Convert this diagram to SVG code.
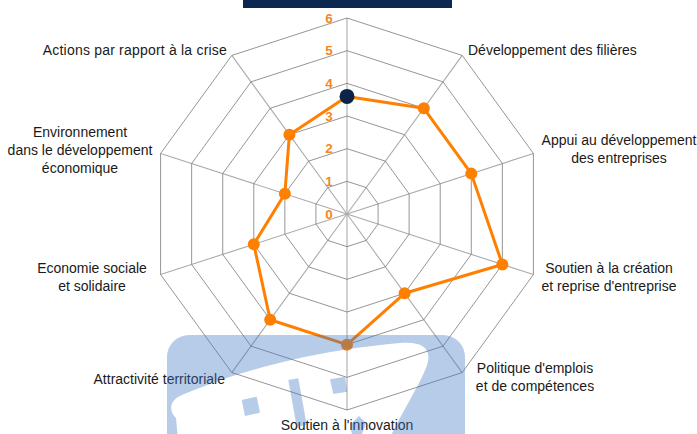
<svg xmlns="http://www.w3.org/2000/svg" width="697" height="434" viewBox="0 0 697 434">
<style>
.ring{fill:none;stroke:#7a7a7a;stroke-width:0.8}
.spoke{stroke:#ababab;stroke-width:1.1}
.lbl{font-family:"Liberation Sans",Arial,sans-serif;font-size:14px;fill:#1a1a1a}
.scale{font-family:"Liberation Sans",Arial,sans-serif;font-size:13.5px;font-weight:bold;fill:#F5871F;text-anchor:middle}
.dot{fill:#FF7F00}
.wm{fill:#3A75C4}
</style>
<defs>
<mask id="wmask">
<rect x="0" y="0" width="697" height="434" fill="#fff"/>
<path d="M176 418 C168 410 170 400 182 395 C230 375 300 352 400 343 C425 341 433 350 426 368 C416 392 400 415 389 440 L178 440 Z" fill="#000"/>
</mask>
</defs>
<rect x="243" y="0" width="209" height="8" fill="#0B2850"/>
<g id="grid">
<g class="spokes">
<line class="spoke" x1="347" y1="214" x2="347" y2="18"/>
<line class="spoke" x1="347" y1="214" x2="462.21" y2="55.44"/>
<line class="spoke" x1="347" y1="214" x2="533.42" y2="153.44"/>
<line class="spoke" x1="347" y1="214" x2="533.42" y2="274.56"/>
<line class="spoke" x1="347" y1="214" x2="462.21" y2="372.56"/>
<line class="spoke" x1="347" y1="214" x2="347" y2="410"/>
<line class="spoke" x1="347" y1="214" x2="231.79" y2="372.56"/>
<line class="spoke" x1="347" y1="214" x2="160.58" y2="274.56"/>
<line class="spoke" x1="347" y1="214" x2="160.58" y2="153.44"/>
<line class="spoke" x1="347" y1="214" x2="231.79" y2="55.44"/>
</g>
<polygon class="ring" points="347,181.33 366.2,187.57 378.07,203.91 378.07,224.09 366.2,240.43 347,246.67 327.8,240.43 315.93,224.09 315.93,203.91 327.8,187.57"/>
<polygon class="ring" points="347,148.67 385.4,161.15 409.14,193.81 409.14,234.19 385.4,266.85 347,279.33 308.6,266.85 284.86,234.19 284.86,193.81 308.6,161.15"/>
<polygon class="ring" points="347,116 404.6,134.72 440.21,183.72 440.21,244.28 404.6,293.28 347,312 289.4,293.28 253.79,244.28 253.79,183.72 289.4,134.72"/>
<polygon class="ring" points="347,83.33 423.81,108.29 471.28,173.62 471.28,254.38 423.81,319.71 347,344.67 270.19,319.71 222.72,254.38 222.72,173.62 270.19,108.29"/>
<polygon class="ring" points="347,50.67 443.01,81.86 502.35,163.53 502.35,264.47 443.01,346.14 347,377.33 250.99,346.14 191.65,264.47 191.65,163.53 250.99,81.86"/>
<polygon class="ring" points="347,18 462.21,55.44 533.42,153.44 533.42,274.56 462.21,372.56 347,410 231.79,372.56 160.58,274.56 160.58,153.44 231.79,55.44"/>
</g>
<g id="scale">
<text class="scale" x="329" y="22.5">6</text>
<text class="scale" x="329" y="55.2">5</text>
<text class="scale" x="329" y="87.8">4</text>
<text class="scale" x="329" y="120.5">3</text>
<text class="scale" x="329" y="153.2">2</text>
<text class="scale" x="329" y="185.8">1</text>
<text class="scale" x="329" y="219">0</text>
</g>
<g id="connectors">
<polygon points="347,96.4 423.81,108.29 471.28,173.62 502.35,264.47 404.6,293.28 347,344.67 270.19,319.71 253.79,244.28 284.86,193.81 289.4,134.72" fill="none" stroke="#FF7F00" stroke-width="3" stroke-linejoin="round"/>
</g>
<g id="points">
<circle class="dot" cx="423.81" cy="108.29" r="6"/>
<circle class="dot" cx="471.28" cy="173.62" r="6"/>
<circle class="dot" cx="502.35" cy="264.47" r="6"/>
<circle class="dot" cx="404.6" cy="293.28" r="6"/>
<circle class="dot" cx="347" cy="344.67" r="6"/>
<circle class="dot" cx="270.19" cy="319.71" r="6"/>
<circle class="dot" cx="253.79" cy="244.28" r="6"/>
<circle class="dot" cx="284.86" cy="193.81" r="6"/>
<circle class="dot" cx="289.4" cy="134.72" r="6"/>
<circle cx="347" cy="96.4" r="7.5" fill="#0D2347"/>
</g>
<g id="node-actions"><text class="lbl" x="227" y="55" text-anchor="end" letter-spacing="0.2">Actions par rapport à la crise</text></g>
<g id="node-filieres"><text class="lbl" x="468" y="55">Développement des filières</text></g>
<g id="node-appui"><text class="lbl" x="619" y="145" text-anchor="middle">Appui au développement<tspan x="619" dy="18">des entreprises</tspan></text></g>
<g id="node-creation"><text class="lbl" x="609" y="273" text-anchor="middle">Soutien à la création<tspan x="609" dy="18">et reprise d'entreprise</tspan></text></g>
<g id="node-politique"><text class="lbl" x="535" y="373" text-anchor="middle">Politique d'emplois<tspan x="535" dy="18">et de compétences</tspan></text></g>
<g id="node-innovation"><text class="lbl" x="347" y="430" text-anchor="middle">Soutien à l'innovation</text></g>
<g id="node-attractivite"><text class="lbl" x="225" y="384" text-anchor="end">Attractivité territoriale</text></g>
<g id="node-economie"><text class="lbl" x="92" y="273" text-anchor="middle">Economie sociale<tspan x="92" dy="18">et solidaire</tspan></text></g>
<g id="node-environnement"><text class="lbl" x="80" y="137" text-anchor="middle">Environnement<tspan x="80" dy="18">dans le développement</tspan><tspan x="80" dy="18">économique</tspan></text></g>
<g id="watermark" opacity="0.36">
<rect class="wm" x="167" y="335" width="298" height="130" rx="22" mask="url(#wmask)"/>
<polygon class="wm" points="241.7,400 256.7,396.7 260,412.7 245,416"/>
<polygon class="wm" points="288.3,380 298.3,378.3 306.7,425 296.7,426.7"/>
<polygon class="wm" points="330,379.3 345,376.7 347.3,391.7 333.3,394"/>
<polygon class="wm" points="350,425 359,416 366,423 362,434 352,434"/>
</g>
</svg>
